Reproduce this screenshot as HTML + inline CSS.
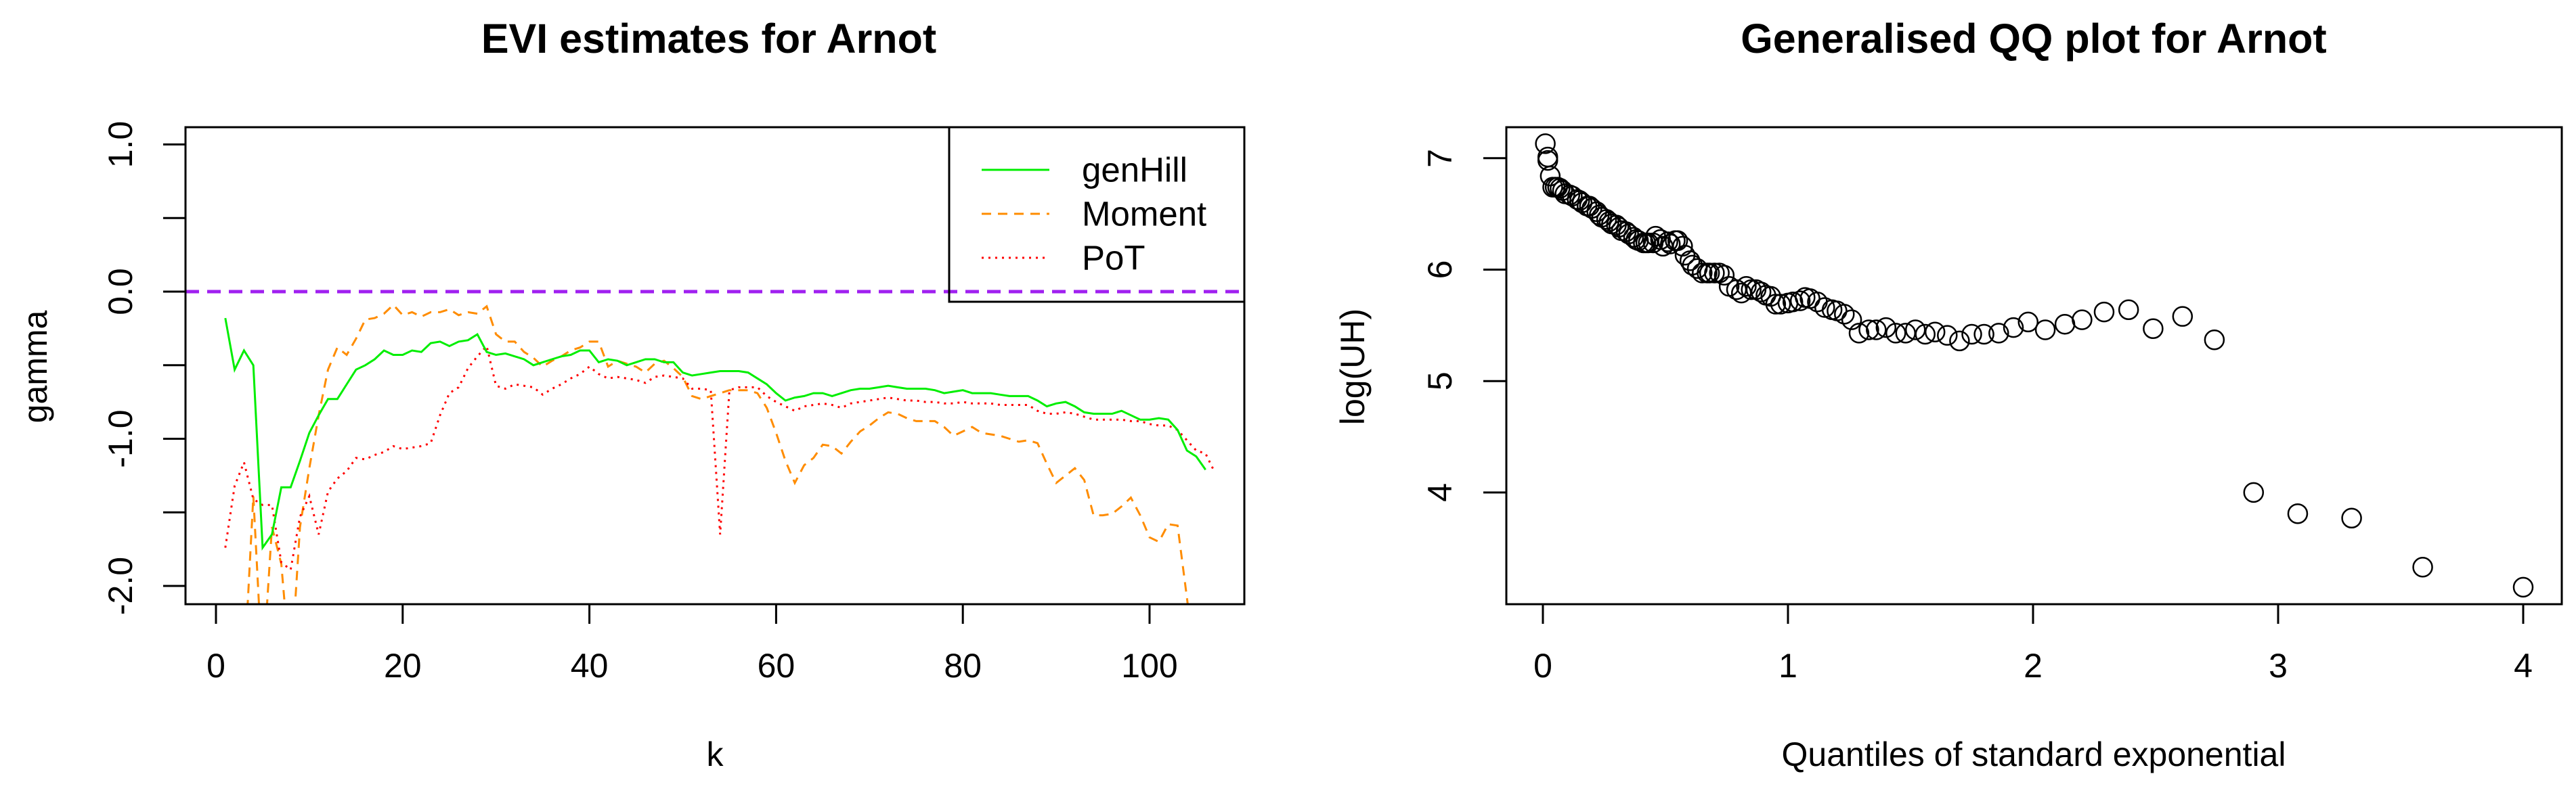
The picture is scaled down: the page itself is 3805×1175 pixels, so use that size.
<!DOCTYPE html>
<html><head><meta charset="utf-8"><style>
html,body{margin:0;padding:0;background:#fff;}
svg{display:block;font-family:"Liberation Sans",Arial,sans-serif;}
</style></head><body>
<svg id="c" width="3805" height="1175" viewBox="0 0 3805 1175">
<defs><clipPath id="clipL"><rect x="274" y="188" width="1564" height="705"/></clipPath></defs>
</svg>
<script>
const genHill=[-0.18,-0.53,-0.40,-0.50,-1.74,-1.65,-1.33,-1.33,-1.15,-0.96,-0.84,-0.73,-0.73,-0.63,-0.53,-0.50,-0.46,-0.40,-0.43,-0.43,-0.40,-0.41,-0.35,-0.34,-0.37,-0.34,-0.33,-0.29,-0.41,-0.43,-0.42,-0.44,-0.46,-0.50,-0.48,-0.46,-0.44,-0.43,-0.40,-0.40,-0.48,-0.46,-0.47,-0.50,-0.48,-0.46,-0.46,-0.48,-0.48,-0.55,-0.57,-0.56,-0.55,-0.54,-0.54,-0.54,-0.55,-0.59,-0.63,-0.69,-0.74,-0.72,-0.71,-0.69,-0.69,-0.71,-0.69,-0.67,-0.66,-0.66,-0.65,-0.64,-0.65,-0.66,-0.66,-0.66,-0.67,-0.69,-0.68,-0.67,-0.69,-0.69,-0.69,-0.70,-0.71,-0.71,-0.71,-0.74,-0.78,-0.76,-0.75,-0.78,-0.82,-0.83,-0.83,-0.83,-0.81,-0.84,-0.87,-0.87,-0.86,-0.87,-0.94,-1.08,-1.12,-1.21];
const moment=[null,null,-2.6,-1.39,-2.6,-1.6,-1.85,-2.6,-1.6,-1.2,-0.84,-0.53,-0.38,-0.43,-0.32,-0.19,-0.18,-0.15,-0.09,-0.16,-0.14,-0.17,-0.14,-0.14,-0.12,-0.16,-0.14,-0.15,-0.10,-0.29,-0.34,-0.34,-0.41,-0.45,-0.51,-0.47,-0.44,-0.40,-0.38,-0.34,-0.34,-0.51,-0.47,-0.49,-0.51,-0.55,-0.49,-0.47,-0.52,-0.58,-0.71,-0.73,-0.71,-0.69,-0.67,-0.67,-0.67,-0.69,-0.79,-0.96,-1.15,-1.30,-1.18,-1.13,-1.04,-1.05,-1.10,-1.02,-0.95,-0.91,-0.86,-0.82,-0.83,-0.86,-0.88,-0.88,-0.88,-0.92,-0.98,-0.95,-0.92,-0.96,-0.97,-0.98,-1.00,-1.02,-1.01,-1.03,-1.17,-1.30,-1.25,-1.20,-1.28,-1.52,-1.52,-1.51,-1.46,-1.40,-1.52,-1.67,-1.70,-1.58,-1.59,-2.08,-2.6];
const pot=[-1.74,-1.32,-1.16,-1.41,-1.45,-1.45,-1.84,-1.89,-1.53,-1.39,-1.65,-1.36,-1.27,-1.22,-1.13,-1.14,-1.11,-1.09,-1.05,-1.07,-1.06,-1.05,-1.03,-0.84,-0.69,-0.65,-0.52,-0.44,-0.37,-0.64,-0.66,-0.63,-0.64,-0.65,-0.70,-0.66,-0.63,-0.59,-0.56,-0.51,-0.56,-0.59,-0.58,-0.59,-0.60,-0.62,-0.58,-0.57,-0.58,-0.59,-0.66,-0.66,-0.67,-1.65,-0.67,-0.65,-0.65,-0.65,-0.71,-0.75,-0.78,-0.81,-0.78,-0.77,-0.76,-0.77,-0.79,-0.76,-0.75,-0.74,-0.73,-0.72,-0.73,-0.74,-0.74,-0.75,-0.75,-0.76,-0.76,-0.75,-0.76,-0.76,-0.76,-0.77,-0.77,-0.77,-0.77,-0.81,-0.83,-0.83,-0.82,-0.83,-0.85,-0.87,-0.87,-0.87,-0.87,-0.88,-0.88,-0.90,-0.91,-0.91,-0.94,-1.01,-1.08,-1.10,-1.23];
const kTicks=[0,20,40,60,80,100];
const gTicks=[-2,-1.5,-1,-0.5,0,0.5,1];
const gLabels=["-2.0","","-1.0","","0.0","","1.0"];
const qqX=[4.0,3.59,3.30,3.08,2.90,2.74,2.61,2.49,2.39,2.29,2.20,2.13,2.05,1.98,1.92,1.86,1.80,1.75,1.70,1.65,1.60,1.56,1.52,1.48,1.44,1.40,1.36,1.33,1.29,1.26,1.23,1.20,1.18,1.15,1.12,1.09,1.07,1.05,1.02,1.00,0.97,0.95,0.93,0.91,0.89,0.87,0.85,0.83,0.81,0.79,0.76,0.74,0.72,0.70,0.68,0.67,0.65,0.63,0.61,0.60,0.58,0.57,0.55,0.54,0.52,0.51,0.49,0.48,0.46,0.45,0.43,0.42,0.41,0.39,0.38,0.37,0.35,0.34,0.32,0.31,0.30,0.28,0.27,0.26,0.24,0.23,0.22,0.20,0.19,0.18,0.16,0.15,0.14,0.12,0.11,0.09,0.08,0.07,0.06,0.05,0.04,0.03,0.02,0.02,0.01];
const qqY=[3.15,3.33,3.77,3.81,4.00,5.37,5.58,5.47,5.64,5.62,5.55,5.51,5.46,5.53,5.48,5.43,5.42,5.42,5.36,5.41,5.44,5.42,5.46,5.43,5.43,5.48,5.46,5.46,5.43,5.55,5.60,5.63,5.64,5.66,5.71,5.74,5.75,5.72,5.71,5.70,5.69,5.69,5.76,5.77,5.80,5.82,5.82,5.85,5.79,5.82,5.85,5.95,5.97,5.97,5.97,5.97,5.97,6.01,6.04,6.08,6.13,6.21,6.26,6.26,6.23,6.25,6.21,6.27,6.30,6.24,6.24,6.24,6.24,6.26,6.27,6.29,6.32,6.34,6.35,6.38,6.40,6.41,6.43,6.45,6.47,6.49,6.52,6.55,6.57,6.57,6.60,6.62,6.63,6.66,6.67,6.68,6.71,6.73,6.74,6.74,6.74,6.84,6.98,7.01,7.13];
const qTicks=[0,1,2,3,4];
const lTicks=[4,5,6,7];

const NS="http://www.w3.org/2000/svg";
const svg=document.getElementById('c');
function mk(tag,attrs,parent){const e=document.createElementNS(NS,tag);for(const k in attrs)e.setAttribute(k,attrs[k]);(parent||svg).appendChild(e);return e;}
function txt(s,x,y,size,opts,parent){const t=mk('text',Object.assign({x:x,y:y,'font-size':size,'text-anchor':'middle','dominant-baseline':'central',fill:'#000'},opts||{}),parent);t.textContent=s;return t;}

const kx=k=>319+k*13.79;
const gy=v=>431-v*217.5;
const qx=v=>2279+v*362;
const ly=v=>398.5-(v-6)*164.7;

let t=txt('EVI estimates for Arnot',1047,57,61,{'font-weight':'bold'});

t=txt('Generalised QQ plot for Arnot',3004,57,61,{'font-weight':'bold'});


const gL=mk('g',{});

kTicks.forEach(k=>{mk('line',{x1:kx(k),x2:kx(k),y1:893,y2:922,stroke:'#000','stroke-width':3},gL);txt(String(k),kx(k),984,50,{},gL);});
const gLy=mk('g',{});

gTicks.forEach((v,i)=>{mk('line',{x1:241,x2:274,y1:gy(v),y2:gy(v),stroke:'#000','stroke-width':3},gLy);if(gLabels[i]){txt(gLabels[i],178,gy(v),50,{transform:`rotate(-90 178 ${gy(v)})`},gLy);}});
t=txt('k',1056,1115,50);
t=txt('gamma',52,542,50,{transform:'rotate(-90 52 542)'});

let z=mk('line',{x1:274,x2:1838,y1:gy(0),y2:gy(0),stroke:'#A020F0','stroke-width':5,'stroke-dasharray':'20 12'});


function series(arr,color,dash,name){
  let d='',pen=false;
  arr.forEach((v,i)=>{if(v===null){pen=false;return;}d+=(pen?'L':'M')+kx(i+1).toFixed(1)+' '+gy(v).toFixed(1)+' ';pen=true;});
  const p=mk('path',{d:d,fill:'none',stroke:color,'stroke-width':3,'clip-path':'url(#clipL)','stroke-dasharray':dash||'none'});
  
}
series(moment,'#FF8C00','14 10','moment-line');
series(pot,'#FF0000','3 7','pot-line');
series(genHill,'#00EE00',null,'genhill-line');

let b=mk('rect',{x:274,y:188,width:1564,height:705,fill:'none',stroke:'#000','stroke-width':3});


const lg=mk('g',{});

mk('rect',{x:1402,y:188,width:436,height:258,fill:'none',stroke:'#000','stroke-width':3},lg);
[['genHill','#00EE00','none',251],['Moment','#FF8C00','14 10',316],['PoT','#FF0000','3 7',381]].forEach(e=>{
  const g=mk('g',{},lg);
  
  
  mk('line',{x1:1450,x2:1550,y1:e[3],y2:e[3],stroke:e[1],'stroke-width':3,'stroke-dasharray':e[2]},g);
  txt(e[0],1598,e[3],51,{'text-anchor':'start'},g);
});

const gR=mk('g',{});

qTicks.forEach(v=>{mk('line',{x1:qx(v),x2:qx(v),y1:893,y2:922,stroke:'#000','stroke-width':3},gR);txt(String(v),qx(v),984,50,{},gR);});
const gRy=mk('g',{});

lTicks.forEach(v=>{mk('line',{x1:2191,x2:2225,y1:ly(v),y2:ly(v),stroke:'#000','stroke-width':3},gRy);txt(String(v),2127,ly(v),50,{transform:`rotate(-90 2127 ${ly(v)})`},gRy);});
t=txt('Quantiles of standard exponential',3004,1115,50);
t=txt('log(UH)',1998,542,50,{transform:'rotate(-90 1998 542)'});
const pts=mk('g',{});

qqX.forEach((x,i)=>{const c=mk('circle',{cx:qx(x),cy:ly(qqY[i]),r:14,fill:'none',stroke:'#000','stroke-width':2.5},pts);

});
b=mk('rect',{x:2225,y:188,width:1559,height:705,fill:'none',stroke:'#000','stroke-width':3});

</script>
</body></html>
